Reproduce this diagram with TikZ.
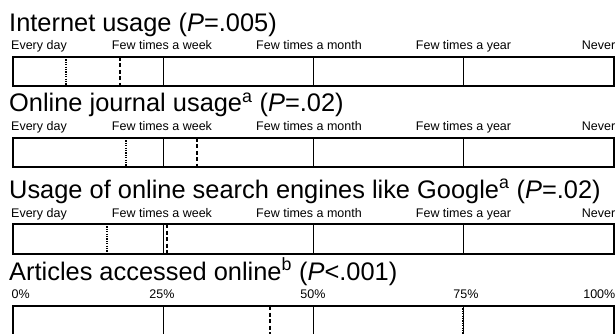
\documentclass[tikz,border=0pt]{standalone}
\usepackage{fontspec}
\setmainfont{Liberation Sans}
\begin{document}
\begin{tikzpicture}[x=1pt,y=-1pt,
  heading/.style={anchor=base west,inner sep=0pt,font=\fontsize{25.4}{29}\selectfont},
  tick/.style={anchor=base,inner sep=0pt,font=\fontsize{12.5}{14}\selectfont},
  tickleft/.style={tick,anchor=base west},
  tickright/.style={tick,anchor=base east},
  frame/.style={draw,line width=2pt},
  quarter/.style={line width=1.1pt},
  dotmark/.style={line width=1.5pt,dash pattern=on 1.2pt off 1.2pt},
  dashmark/.style={line width=1.5pt,dash pattern=on 4pt off 2.5pt}]
\useasboundingbox (0,0) rectangle (616,334);

% headings
\node[heading] (t1) at (9,32)  {Internet usage (\textit{P}=.005)};
\node[heading] (t2) at (9,112) {Online journal usage\textsuperscript{a} (\textit{P}=.02)};
\node[heading] (t3) at (9,198) {Usage of online search engines like Google\textsuperscript{a} (\textit{P}=.02)};
\node[heading] (t4) at (9,280) {Articles accessed online\textsuperscript{b} (\textit{P}<.001)};

% frequency scales
\foreach \n/\b in {1/49.5,2/130.5,3/217.3}{
  \node[tickleft]  (e\n) at (11,\b)    {Every day};
  \node[tick]      (w\n) at (162,\b)   {Few times a week};
  \node[tick]      (m\n) at (309,\b)   {Few times a month};
  \node[tick]      (y\n) at (463.5,\b) {Few times a year};
  \node[tickright] (v\n) at (615.5,\b) {Never};
}
% percentage scale
\node[tickleft]  (p0)   at (11.5,298.3)  {0\%};
\node[tick]      (p25)  at (162,298.3)   {25\%};
\node[tick]      (p50)  at (313,298.3)   {50\%};
\node[tick]      (p75)  at (466,298.3)   {75\%};
\node[tickright] (p100) at (615.5,298.3) {100\%};

% bars: top, bottom, dotted marker, dashed marker
\foreach \top/\bot/\dx/\ddx in {57/86.5/66/120, 138/167/126/197, 224/254/107/167, 306/336/462.3/270}{
  \foreach \q in {163.25,313.5,463.75}
    \draw[quarter] (\q,\top) -- (\q,\bot);
  \draw[dotmark]  (\dx,\top)  -- (\dx,\bot);
  \draw[dashmark] (\ddx,\top) -- (\ddx,\bot);
  \draw[frame] (13,\top) rectangle (614,\bot);
}
\end{tikzpicture}
\end{document}
